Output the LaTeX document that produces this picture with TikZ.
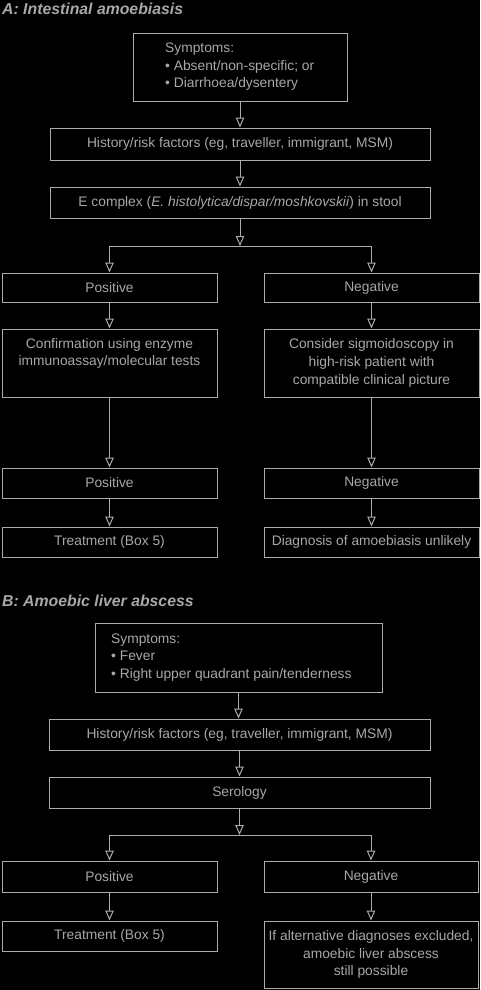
\documentclass[tikz,border=0pt]{standalone}
\usepackage{fontspec}
\setmainfont{Liberation Sans}
\usetikzlibrary{arrows.meta}
\definecolor{ln}{RGB}{172,172,172}
\definecolor{tx}{RGB}{168,168,168}
\tikzset{
  box/.style={draw=ln, line width=1pt, rectangle, inner sep=0pt, text=tx, align=center,
    font=\fontsize{13.8}{17.6}\selectfont},
  txt/.style={text=tx, inner sep=0pt, align=left, font=\fontsize{13.8}{17.6}\selectfont},
  ttl/.style={text=tx, inner sep=0pt, anchor=west, font=\fontsize{15.8}{18}\selectfont\bfseries\itshape},
  arr/.style={draw=ln, line width=1pt, -{Triangle[open, length=10pt, width=8.5pt]}},
  ln/.style={draw=ln, line width=1pt}
}
\begin{document}
\begin{tikzpicture}[x=1pt, y=-1pt]
\fill[black] (0,0) rectangle (480,990);
\useasboundingbox (0,0) rectangle (480,990);
% ---------- A ----------
\node[ttl] (tA) at (2,9) {A: Intestinal amoebiasis};
\node[box, minimum width=214pt, minimum height=67pt] (symA) at (240,67.5) {};
\node[txt, anchor=west] (symAt) at (165,67) {Symptoms:\\• Absent/non-specific; or\\• Diarrhoea/dysentery};
\node[box, minimum width=380pt, minimum height=32pt] (histA) at (240,144) {History/risk factors (eg, traveller, immigrant, MSM)};
\node[box, minimum width=380pt, minimum height=31pt] (ecA) at (240,202.5) {E complex (\textit{E. histolytica/dispar/moshkovskii}) in stool};
\coordinate (brA) at (240,246);
\node[box, minimum width=215pt, minimum height=29pt] (posA1) at (109.5,287.5) {Positive};
\node[box, minimum width=215pt, minimum height=29pt] (negA1) at (371.5,287.5) {Negative};
\node[box, minimum width=215pt, minimum height=68pt] (confA) at (109.5,363) {};
\node[txt, align=center] (confAt) at (109.5,353.5) {Confirmation using enzyme\\immunoassay/molecular tests};
\node[box, minimum width=215pt, minimum height=68pt] (sigA) at (371.5,363) {Consider sigmoidoscopy in\\high-risk patient with\\compatible clinical picture};
\node[box, minimum width=215pt, minimum height=30pt] (posA2) at (109.5,483) {Positive};
\node[box, minimum width=215pt, minimum height=30pt] (negA2) at (371.5,483) {Negative};
\node[box, minimum width=215pt, minimum height=30pt] (treatA) at (109.5,542) {Treatment (Box 5)};
\node[box, minimum width=215pt, minimum height=30pt] (diagA) at (371.5,542) {Diagnosis of amoebiasis unlikely};
\draw[arr] (symA) -- (histA);
\draw[arr] (histA) -- (ecA);
\draw[arr] (ecA) -- (brA);
\draw[ln] (posA1.north |- brA) -- (negA1.north |- brA);
\draw[arr] (posA1.north |- brA) -- (posA1);
\draw[arr] (negA1.north |- brA) -- (negA1);
\draw[arr] (posA1) -- (confA);
\draw[arr] (negA1) -- (sigA);
\draw[arr] (confA) -- (posA2);
\draw[arr] (sigA) -- (negA2);
\draw[arr] (posA2) -- (treatA);
\draw[arr] (negA2) -- (diagA);
% ---------- B ----------
\node[ttl] (tB) at (2,601) {B: Amoebic liver abscess};
\node[box, minimum width=287pt, minimum height=69pt] (symB) at (238.5,657.5) {};
\node[txt, anchor=west] (symBt) at (111,657.5) {Symptoms:\\• Fever\\• Right upper quadrant pain/tenderness};
\node[box, minimum width=381pt, minimum height=31pt] (histB) at (239.5,734.5) {History/risk factors (eg, traveller, immigrant, MSM)};
\node[box, minimum width=381pt, minimum height=31pt] (serB) at (239.5,792.5) {Serology};
\coordinate (brB) at (239.5,835);
\node[box, minimum width=215pt, minimum height=31pt] (posB1) at (109.5,876.5) {Positive};
\node[box, minimum width=214pt, minimum height=31pt] (negB1) at (371,876.5) {Negative};
\node[box, minimum width=215pt, minimum height=30pt] (treatB) at (109.5,936) {Treatment (Box 5)};
\node[box, minimum width=214pt, minimum height=67pt] (altB) at (371,954.5) {If alternative diagnoses excluded,\\amoebic liver abscess\\still possible};
\draw[arr] (symB) -- (symB |- histB.north);
\draw[arr] (histB) -- (serB);
\draw[arr] (serB) -- (brB);
\draw[ln] (posB1.north |- brB) -- (negB1.north |- brB);
\draw[arr] (posB1.north |- brB) -- (posB1);
\draw[arr] (negB1.north |- brB) -- (negB1);
\draw[arr] (posB1) -- (treatB);
\draw[arr] (negB1) -- (altB);
\end{tikzpicture}
\end{document}
